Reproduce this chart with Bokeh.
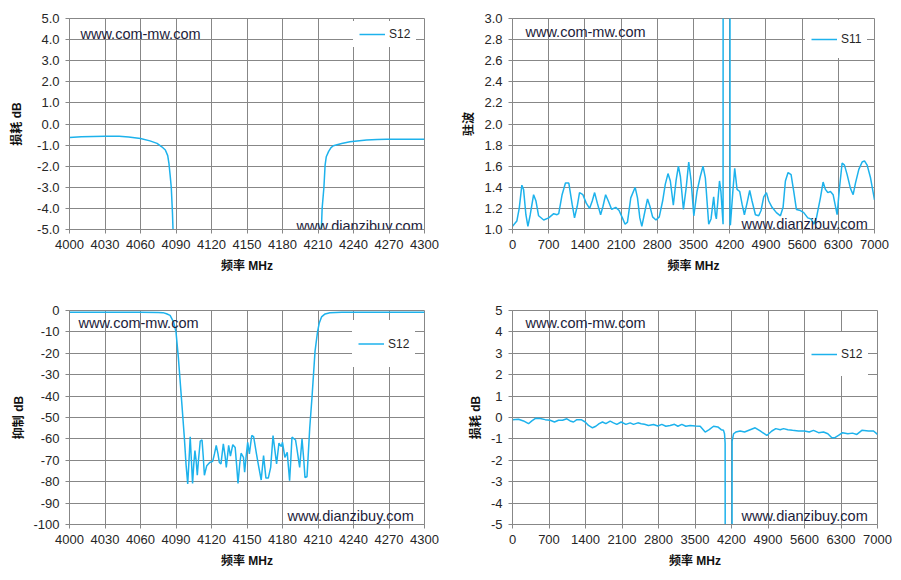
from bokeh.plotting import figure
from bokeh.models import (FixedTicker, Label, Legend, LegendItem, Range1d,
                          NumeralTickFormatter)
from bokeh.layouts import column, row
from bokeh.embed import file_html
from bokeh.resources import INLINE

# ---------------- data ----------------
# Chart 1: S12 insertion loss, narrow band
loss_narrow_freq = [4000, 4010, 4020, 4030, 4042, 4050, 4060, 4068, 4074, 4078, 4081, 4083,
                    4084, 4085, 4086, 4087, 4087.6, 4090, 4095, 4100, 4150, 4200, 4205, 4210,
                    4212.5, 4213.5, 4215, 4216, 4217, 4219, 4221, 4223, 4230, 4237, 4245,
                    4251, 4260, 4268, 4280, 4300]
loss_narrow_db = [-0.64, -0.61, -0.59, -0.58, -0.58, -0.62, -0.69, -0.80, -0.92, -1.08, -1.23,
                  -1.50, -1.85, -2.40, -3.00, -4.20, -5.20, -10, -44, -75, -65, -75, -40, -10,
                  -5.5, -4.0, -3.0, -1.95, -1.55, -1.30, -1.12, -1.03, -0.92, -0.84, -0.79,
                  -0.76, -0.73, -0.72, -0.72, -0.72]

# Chart 2: S11 VSWR, wide band
vswr_freq = [0, 84, 130, 181, 214, 259, 298, 343, 408, 454, 505, 603, 700, 797, 862, 894, 959,
             1024, 1089, 1153, 1199, 1251, 1296, 1361, 1426, 1490, 1542, 1588, 1640, 1704,
             1750, 1801, 1853, 1918, 1996, 2061, 2125, 2177, 2223, 2287, 2372, 2417, 2462,
             2501, 2547, 2611, 2657, 2709, 2774, 2838, 2903, 2955, 3007, 3052, 3110, 3162,
             3208, 3247, 3305, 3357, 3408, 3454, 3506, 3568, 3630, 3684, 3729, 3794, 3839,
             3890, 3923, 3942, 4003, 4030, 4072, 4086, 4198, 4206, 4213, 4264, 4297, 4342,
             4394, 4439, 4484, 4535, 4587, 4632, 4697, 4761, 4806, 4858, 4910, 4955, 5019,
             5103, 5181, 5232, 5277, 5329, 5387, 5439, 5490, 5568, 5632, 5710, 5774, 5826,
             5877, 5954, 6006, 6051, 6097, 6148, 6200, 6245, 6277, 6322, 6374, 6419, 6471,
             6535, 6587, 6632, 6697, 6761, 6806, 6858, 6923, 7000]
vswr_val = [1.03, 1.08, 1.20, 1.42, 1.38, 1.14, 1.03, 1.14, 1.33, 1.27, 1.13, 1.09, 1.11, 1.15,
            1.14, 1.15, 1.33, 1.44, 1.44, 1.24, 1.11, 1.22, 1.35, 1.33, 1.25, 1.20, 1.27, 1.35,
            1.25, 1.14, 1.22, 1.33, 1.27, 1.19, 1.21, 1.18, 1.11, 1.05, 1.07, 1.30, 1.40, 1.30,
            1.11, 1.03, 1.14, 1.29, 1.22, 1.12, 1.09, 1.12, 1.27, 1.43, 1.53, 1.46, 1.23, 1.46,
            1.60, 1.50, 1.19, 1.39, 1.64, 1.46, 1.13, 1.36, 1.50, 1.60, 1.49, 1.05, 1.10, 1.31,
            1.14, 1.10, 1.46, 1.36, 1.05, 40.0, 40.0, 1.05, 1.04, 1.38, 1.58, 1.38, 1.36, 1.24,
            1.14, 1.25, 1.37, 1.27, 1.14, 1.13, 1.18, 1.31, 1.35, 1.27, 1.21, 1.16, 1.13, 1.21,
            1.46, 1.54, 1.52, 1.36, 1.19, 1.18, 1.16, 1.11, 1.10, 1.05, 1.11, 1.30, 1.45, 1.38,
            1.35, 1.36, 1.33, 1.22, 1.14, 1.39, 1.63, 1.61, 1.52, 1.39, 1.33, 1.44, 1.57, 1.64,
            1.65, 1.61, 1.49, 1.28]

# Chart 3: S12 rejection, narrow band
rej_freq = [4000, 4020, 4040, 4060, 4075, 4079, 4082, 4085, 4088, 4090, 4092, 4095, 4097,
            4098.5, 4099.9, 4101, 4102, 4103, 4104, 4105, 4106, 4107, 4108, 4109, 4110.5, 4112,
            4113, 4114, 4116, 4118.5, 4121, 4122.5, 4124, 4125.5, 4126.6, 4128, 4129, 4130,
            4131.5, 4132.5, 4134.5, 4136, 4138, 4140, 4141.2, 4142.4, 4143.8, 4145, 4147, 4148,
            4149.3, 4150.6, 4152, 4154, 4155.6, 4158, 4160, 4162, 4164, 4166, 4168, 4170, 4172,
            4175, 4177, 4179, 4180, 4182, 4184, 4185, 4186, 4187, 4188, 4191, 4192, 4194.5,
            4196.5, 4198, 4199, 4200.7, 4201.5, 4203, 4205, 4207.5, 4209.6, 4211, 4213, 4216,
            4220, 4230, 4250, 4300]
rej_db = [-0.8, -0.8, -0.8, -0.8, -0.9, -1.0, -1.5, -2.3, -5.4, -10, -22, -44, -59, -72, -81,
          -70, -59, -70, -80.8, -72, -65.5, -70, -77, -70, -61, -60.5, -68, -77, -72.5, -71,
          -70.5, -67, -63, -67, -71, -71.7, -67, -62.3, -68, -73.3, -63, -68, -62.7, -64, -72,
          -80.8, -72, -66.7, -68.6, -75.6, -68, -61.6, -67, -58.4, -58.9, -67, -73.3, -79.2,
          -67.8, -78.3, -78.3, -73.3, -58.4, -71.7, -62, -63.6, -61.6, -68.6, -66.3, -73,
          -79.5, -70, -59.2, -60.5, -63.9, -73.3, -60, -70, -78, -77.7, -70, -55, -40, -19,
          -10, -6, -3, -1.6, -1.1, -0.85, -0.8, -0.8]

# Chart 4: S12 insertion loss, wide band
loss_wide_freq = [0, 115, 211, 307, 371, 448, 531, 627, 722, 805, 882, 959, 1042, 1106, 1170,
                  1234, 1317, 1394, 1458, 1534, 1598, 1662, 1726, 1790, 1873, 1937, 2001, 2084,
                  2174, 2257, 2321, 2404, 2468, 2532, 2608, 2704, 2787, 2864, 2941, 3024, 3107,
                  3171, 3248, 3324, 3408, 3504, 3599, 3695, 3772, 3855, 3938, 4002, 4047, 4066,
                  4078, 4088, 4200, 4212, 4240, 4283, 4366, 4450, 4558, 4654, 4750, 4878, 4974,
                  5050, 5134, 5198, 5281, 5370, 5485, 5600, 5690, 5773, 5869, 5965, 6048, 6124,
                  6175, 6252, 6329, 6431, 6521, 6604, 6700, 6828, 6924, 7000]
loss_wide_db = [-0.10, -0.08, -0.16, -0.29, -0.16, -0.03, -0.05, -0.10, -0.13, -0.21, -0.13,
                -0.13, -0.06, -0.16, -0.21, -0.10, -0.10, -0.21, -0.37, -0.48, -0.41, -0.29,
                -0.21, -0.29, -0.17, -0.25, -0.32, -0.21, -0.32, -0.25, -0.32, -0.25, -0.29,
                -0.32, -0.37, -0.33, -0.40, -0.32, -0.41, -0.37, -0.32, -0.41, -0.32, -0.41,
                -0.37, -0.40, -0.41, -0.68, -0.57, -0.41, -0.44, -0.57, -0.60, -0.76, -1.2,
                -40, -40, -1.1, -0.76, -0.68, -0.63, -0.68, -0.57, -0.48, -0.63, -0.84, -0.63,
                -0.52, -0.57, -0.52, -0.57, -0.60, -0.63, -0.63, -0.68, -0.60, -0.71, -0.68,
                -0.76, -0.95, -0.95, -0.84, -0.71, -0.76, -0.73, -0.79, -0.60, -0.63, -0.63,
                -0.79]

narrow_ticks = [4000, 4030, 4060, 4090, 4120, 4150, 4180, 4210, 4240, 4270, 4300]
wide_ticks = [0, 700, 1400, 2100, 2800, 3500, 4200, 4900, 5600, 6300, 7000]
loss_ticks = [-5, -4, -3, -2, -1, 0, 1, 2, 3, 4, 5]
vswr_ticks = [1.0, 1.2, 1.4, 1.6, 1.8, 2.0, 2.2, 2.4, 2.6, 2.8, 3.0]
rej_ticks = [-100, -90, -80, -70, -60, -50, -40, -30, -20, -10, 0]

x_title = "频率 MHz"
y_titles = ["损耗 dB", "驻波", "抑制 dB", "损耗 dB"]
series_names = ["S12", "S11", "S12", "S12"]
watermark_top = "www.com-mw.com"
watermark_bottom = "www.dianzibuy.com"

# ---------------- style ----------------
GRID = "#878787"
LINE = "#1DB2EC"
TXT = "#262626"
WM = "#1c1c3a"
LAT = "'Liberation Sans', Arial, sans-serif"
MIX = "'Liberation Sans', 'Noto Sans CJK SC', sans-serif"


def make_chart(xs, ys, xr, yr, xt, yt, yfmt, ytitle, name, w, h, borders,
               ylab_standoff, leg_pos, leg_item_h, wm_pos):
    bl, br, bt, bb = borders
    p = figure(width=w, height=h, x_range=Range1d(*xr), y_range=Range1d(*yr),
               output_backend="svg", toolbar_location=None,
               min_border_left=bl, min_border_right=br, min_border_top=bt,
               min_border_bottom=bb)
    p.background_fill_color = "white"
    p.border_fill_color = "white"
    p.outline_line_color = GRID
    p.outline_line_width = 1

    for g in (p.xgrid, p.ygrid):
        g.grid_line_color = GRID
        g.grid_line_width = 1
    p.xgrid.ticker = FixedTicker(ticks=xt)
    p.ygrid.ticker = FixedTicker(ticks=yt)

    p.xaxis.ticker = FixedTicker(ticks=xt)
    p.yaxis.ticker = FixedTicker(ticks=yt)
    p.xaxis.formatter = NumeralTickFormatter(format="0")
    p.yaxis.formatter = NumeralTickFormatter(format=yfmt)
    for ax in (p.xaxis, p.yaxis):
        ax.axis_line_color = GRID
        ax.major_tick_line_color = GRID
        ax.major_tick_out = 4
        ax.major_tick_in = 0
        ax.minor_tick_out = 0
        ax.minor_tick_in = 0
        ax.major_label_text_font = LAT
        ax.major_label_text_font_size = "13px"
        ax.major_label_text_color = TXT
        ax.major_label_standoff = 6
        ax.axis_label_text_font = MIX
        ax.axis_label_text_font_size = "12px"
        ax.axis_label_text_font_style = "bold"
        ax.axis_label_text_color = "#111111"
    p.xaxis.axis_label = x_title
    p.xaxis.axis_label_standoff = 7
    p.yaxis.axis_label = ytitle
    p.yaxis.axis_label_standoff = ylab_standoff

    r = p.line(xs, ys, line_color=LINE, line_width=1.5)

    leg = Legend(items=[LegendItem(label=name, renderers=[r])], location=leg_pos,
                 orientation="vertical")
    leg.border_line_alpha = 0
    leg.background_fill_color = "white"
    leg.background_fill_alpha = 1
    leg.padding = 6
    leg.margin = 0
    leg.spacing = 0
    leg.glyph_width = 26
    leg.glyph_height = leg_item_h
    leg.label_height = leg_item_h
    leg.label_standoff = 4
    leg.label_text_font = LAT
    leg.label_text_font_size = "12px"
    leg.label_text_color = TXT
    p.add_layout(leg)

    (x1, y1), (x2, y2), (s1, s2) = wm_pos
    p.add_layout(Label(x=x1, y=y1, x_units="screen", y_units="screen",
                       text=watermark_top, text_font=LAT, text_font_size=s1,
                       text_color=WM, text_baseline="middle"))
    p.add_layout(Label(x=x2, y=y2, x_units="screen", y_units="screen",
                       text=watermark_bottom, text_font=LAT, text_font_size=s2,
                       text_color=WM, text_baseline="middle"))
    return p


p1 = make_chart(loss_narrow_freq, loss_narrow_db, (4000, 4300), (-5, 5), narrow_ticks,
                loss_ticks, "0.0", y_titles[0], series_names[0], 451, 290,
                (69, 27, 15, 61), 10, (284, 182), 12,
                ((11, 196), (227, 4), ("14.5px", "14.5px")))
p2 = make_chart(vswr_freq, vswr_val, (0, 7000), (1.0, 3.0), wide_ticks,
                vswr_ticks, "0.0", y_titles[1], series_names[1], 442, 290,
                (61, 19, 18, 59), 5, (293, 171), 26,
                ((13, 198), (229, 6), ("14.5px", "14.5px")))
p3 = make_chart(rej_freq, rej_db, (4000, 4300), (-100, 0), narrow_ticks,
                rej_ticks, "0", y_titles[2], series_names[2], 451, 282,
                (69, 27, 18, 48), 4, (283, 157), 35,
                ((9, 202), (218, 9), ("14.5px", "14.5px")))
p4 = make_chart(loss_wide_freq, loss_wide_db, (0, 7000), (-5, 5), wide_ticks,
                loss_ticks, "0", y_titles[3], series_names[3], 442, 282,
                (61, 16, 20, 48), 5, (293, 148), 32,
                ((13, 202), (229, 9), ("14.5px", "14.5px")))

layout = column(row(p1, p2), row(p3, p4))

open("out.html", "w").write(file_html(layout, INLINE))
